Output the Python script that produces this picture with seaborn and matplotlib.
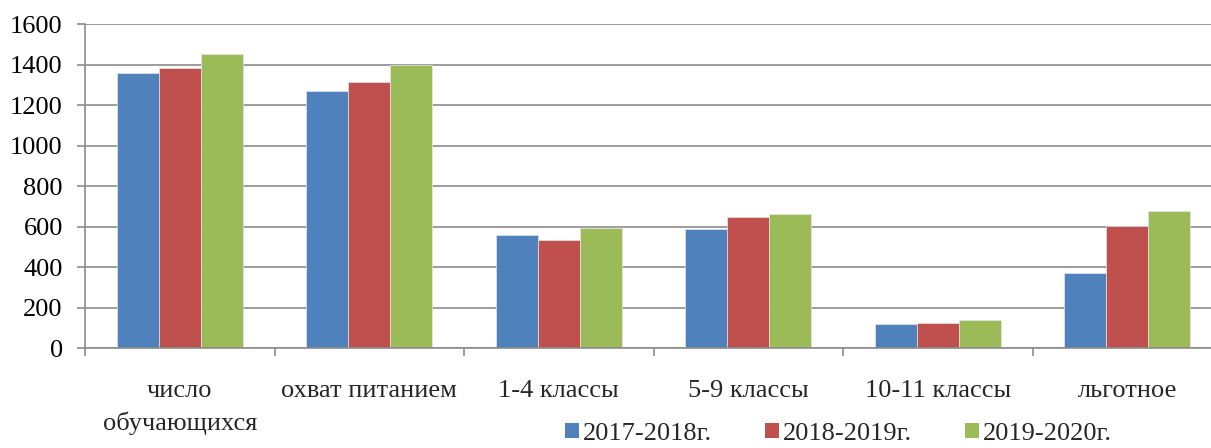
import numpy as np
import pandas as pd
import matplotlib
matplotlib.use("Agg")
import matplotlib.pyplot as plt
import seaborn as sns
from matplotlib.patches import Patch

categories = ["число\nобучающихся", "охват питанием", "1-4 классы", "5-9 классы", "10-11 классы", "льготное"]
series_names = ["2017-2018г.", "2018-2019г.", "2019-2020г."]
s2017 = [1358, 1272, 559, 590, 117, 372]
s2018 = [1382, 1313, 534, 649, 125, 601]
s2019 = [1453, 1397, 595, 664, 137, 677]
yticks = [0, 200, 400, 600, 800, 1000, 1200, 1400, 1600]
colors = ["#4F81BD", "#C0504D", "#9BBB59"]

rows = []
for name, vals in zip(series_names, [s2017, s2018, s2019]):
    for c, v in zip(categories, vals):
        rows.append({"cat": c, "series": name, "value": v})
df = pd.DataFrame(rows)

sns.set_theme(style="white")
plt.rcParams["font.family"] = ["Liberation Serif", "DejaVu Serif"]
FS = 19
plt.rcParams["font.size"] = FS

W, H = 1211, 448
fig = plt.figure(figsize=(W / 100, H / 100), dpi=100)
ax = fig.add_axes([85 / W, (H - 348) / H, (1222 - 85) / W, (348 - 24.3) / H])

sns.barplot(data=df, x="cat", y="value", hue="series", order=categories,
            hue_order=series_names, palette=colors, width=0.667, gap=0,
            saturation=1, edgecolor="#e6e6e6", linewidth=0.5, ax=ax, legend=False)

ax.set_xlim(-0.5, len(categories) - 0.5)
ax.set_ylim(0, 1600)
ax.set_yticks(yticks)
ax.set_yticklabels([str(t) for t in yticks], fontsize=FS, color="black")
ax.set_xlabel("")
ax.set_ylabel("")

gc = "#8c8c8c"
ax.yaxis.grid(True, color=gc, linewidth=1.2)
ax.xaxis.grid(False)
ax.set_axisbelow(True)
for s in ["top", "right"]:
    ax.spines[s].set_visible(False)
for s in ["left", "bottom"]:
    ax.spines[s].set_color(gc)
    ax.spines[s].set_linewidth(1.2)

ax.tick_params(axis="y", which="major", direction="out", length=6, width=1.2,
               color=gc, pad=10, left=True, labelsize=FS)
ax.set_xticks(range(len(categories)))
ax.set_xticklabels(categories, fontsize=FS, linespacing=1.5, multialignment="center")
ax.set_xticks(np.arange(-0.5, len(categories) + 0.5, 1), minor=True)
ax.tick_params(axis="x", which="major", length=0, pad=23, bottom=True)
ax.tick_params(axis="x", which="minor", direction="out", length=6, width=1.2,
               color=gc, bottom=True)

handles = [Patch(facecolor=c, edgecolor="none") for c in colors]
fig.legend(handles, series_names, loc="center left", bbox_to_anchor=(565 / W, (H - 434) / H),
           ncol=3, frameon=False, fontsize=FS, handlelength=0.53, handleheight=0.53,
           handletextpad=0.15, columnspacing=2.0, borderaxespad=0, borderpad=0)

fig.savefig("out.png", dpi=100)
